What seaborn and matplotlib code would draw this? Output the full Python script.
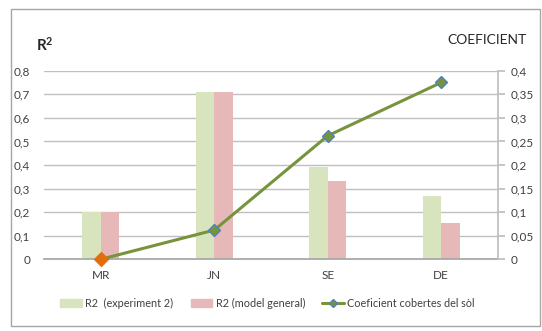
import matplotlib
matplotlib.use("Agg")
import matplotlib.pyplot as plt
import matplotlib.patches as mpatches
from matplotlib.lines import Line2D
import seaborn as sns
import pandas as pd

# Data
months = ["MR", "JN", "SE", "DE"]
r2_experiment = [0.20, 0.711, 0.393, 0.268]
r2_general = [0.20, 0.708, 0.333, 0.153]
coef_cobertes = [0.0, 0.062, 0.262, 0.375]

left_ticks = [0, 0.1, 0.2, 0.3, 0.4, 0.5, 0.6, 0.7, 0.8]
right_ticks = [0, 0.05, 0.1, 0.15, 0.2, 0.25, 0.3, 0.35, 0.4]

lab_exp = "R2  (experiment 2)"
lab_gen = "R2 (model general)"
lab_coef = "Coeficient cobertes del sòl"

c_exp = "#D7E4BD"
c_gen = "#E6B9B8"
c_line = "#77933C"
c_edge = "#4F81BD"
c_first = "#E46C0A"

sns.set_theme(style="white")
plt.rcParams["font.family"] = ["Lato", "DejaVu Sans"]
plt.rcParams["mathtext.fontset"] = "custom"
plt.rcParams["mathtext.rm"] = "Lato"
plt.rcParams["mathtext.bf"] = "Lato:bold"

df = pd.DataFrame({
    "mes": months * 2,
    "valor": r2_experiment + r2_general,
    "serie": [lab_exp] * 4 + [lab_gen] * 4,
})
df_line = pd.DataFrame({"mes": months, "coef": coef_cobertes})

fig = plt.figure(figsize=(5.42, 3.31), dpi=100)
ax = fig.add_axes([44 / 542, 1 - 259.3 / 331, 454 / 542, 188.6 / 331])

sns.barplot(data=df, x="mes", y="valor", hue="serie", ax=ax,
            palette=[c_exp, c_gen], width=0.33, linewidth=0, saturation=1,
            legend=False)
ax.set_xlim(-0.5, 3.5)
ax.set_ylim(0, 0.8)
ax.set_yticks(left_ticks)
ax.set_yticklabels([f"{v:g}".replace(".", ",") for v in left_ticks])
ax.set_xlabel("")
ax.set_ylabel("")
ax.grid(axis="y", color="#BFBFBF", linewidth=1)
ax.set_axisbelow(True)
for s in ["left", "top", "right"]:
    ax.spines[s].set_visible(False)
ax.spines["bottom"].set_color("#A6A6A6")
ax.tick_params(axis="y", length=0, pad=10, labelsize=8.5, labelcolor="#404040")
ax.tick_params(axis="x", length=0, pad=8, labelsize=8.5, labelcolor="#404040")

ax2 = ax.twinx()
sns.lineplot(data=df_line, x="mes", y="coef", ax=ax2, color=c_line,
             linewidth=2.2, marker="D", markersize=6.5,
             markerfacecolor=c_line, markeredgecolor=c_edge,
             markeredgewidth=1.0, sort=False)
# first point highlighted
sns.scatterplot(data=df_line.iloc[:1], x="mes", y="coef", ax=ax2,
                marker="D", s=55, color=c_first, edgecolor=c_first,
                zorder=5, clip_on=False)
ax2.set_ylim(0, 0.4)
ax2.set_yticks(right_ticks)
ax2.set_yticklabels([f"{v:g}".replace(".", ",") for v in right_ticks])
ax2.set_ylabel("")
ax2.set_xlabel("")
for s in ["left", "top", "bottom"]:
    ax2.spines[s].set_visible(False)
ax2.spines["right"].set_color("#BFBFBF")
ax2.tick_params(axis="y", length=5, color="#BFBFBF", pad=4,
                labelsize=8.5, labelcolor="#404040")

fig.text(36 / 542, 1 - 45 / 331, r"$\mathbf{R^2}$", fontsize=11,
         color="#262626", va="center", ha="left")
fig.text(527 / 542, 1 - 40 / 331, "COEFICIENT", fontsize=10,
         color="#262626", va="center", ha="right")

handles = [
    mpatches.Patch(color=c_exp, label=lab_exp),
    mpatches.Patch(color=c_gen, label=lab_gen),
    Line2D([0], [0], color=c_line, linewidth=2.2, marker="D", markersize=4,
           markerfacecolor=c_line, markeredgecolor=c_edge, label=lab_coef),
]
fig.legend(handles=handles, loc="center", bbox_to_anchor=(267.5 / 542, 1 - 303 / 331),
           ncol=3, frameon=False, fontsize=7.8, handlelength=2.0,
           handleheight=0.7, columnspacing=1.6, handletextpad=0.3,
           labelcolor="#404040")

border = mpatches.Rectangle((10.5 / 542, 1 - 326 / 331), 529.5 / 542, 317 / 331,
                            transform=fig.transFigure, fill=False,
                            edgecolor="#A6A6A6", linewidth=1)
fig.patches.append(border)

fig.savefig("out.png", dpi=100)
